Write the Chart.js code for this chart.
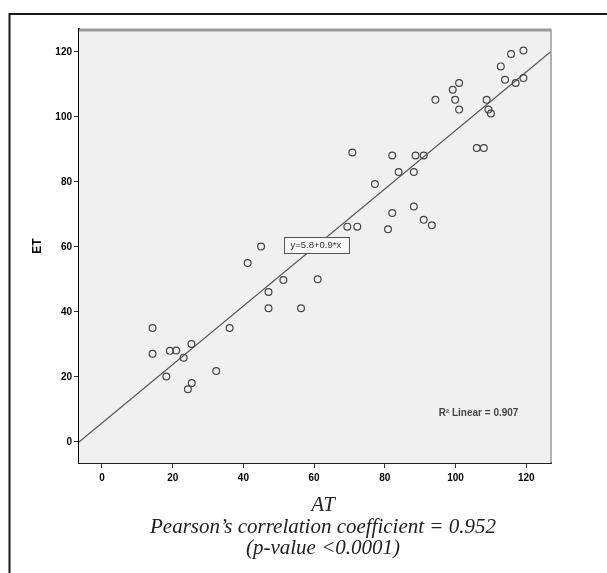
<!DOCTYPE html>
<html>
<head>
<meta charset="utf-8">
<script src="https://cdn.jsdelivr.net/npm/chart.js@4/dist/chart.umd.min.js"></script>
<style>
  html, body { margin: 0; padding: 0; background: #fff; }
  #wrap { width: 607px; height: 573px; position: relative; }
</style>
</head>
<body>
<div id="wrap"><canvas id="chart" width="607" height="573"></canvas></div>
<script>
// AT vs ET values
const atValues = [14.3, 14.3, 18.2, 19.2, 21, 23.1, 25.3, 24.3, 25.4, 32.3, 36.1, 41.2, 45, 47.1, 47.1,
  51.3, 56.3, 61, 69.4, 72.2, 70.8, 77.2, 80.9, 82.1, 82.1, 83.9, 88.2, 88.2, 88.7, 91, 91, 93.3,
  94.3, 99.2, 101, 99.9, 101, 108.8, 109.3, 110, 106, 108, 112.8, 114, 115.7, 119.2, 117, 119.2];
const etValues = [35, 27.1, 20.1, 28, 28.1, 25.9, 30.1, 16.2, 18.1, 21.8, 35, 55, 60.1, 46.1, 41.1,
  49.8, 41.1, 50, 66.2, 66.2, 89, 79.3, 65.4, 70.4, 88.1, 83, 83, 72.4, 88.1, 88.1, 68.3, 66.6,
  105.2, 108.3, 110.4, 105.2, 102.2, 105.2, 102.2, 101, 90.4, 90.4, 115.5, 111.4, 119.3, 120.4, 110.4, 111.9];

const xTicks = [0, 20, 40, 60, 80, 100, 120];
const yTicks = [0, 20, 40, 60, 80, 100, 120];
const axisMin = -6.5;
const axisMax = 127;

// fitted line  y = 5.8 + 0.9 * x
const fitIntercept = 5.8;
const fitSlope = 0.9;
const fitLabel = 'y=5.8+0.9*x';
const fitLabelAt = [60.5, 60.6];
const r2Label = 'R\u00B2 Linear = 0.907';
const r2LabelAt = [106.5, 8.9];

const xTitle = 'AT';
const yTitle = 'ET';
const captionLines = ['Pearson\u2019s correlation coefficient = 0.952', '(p-value <0.0001)'];

const points = atValues.map((x, i) => ({ x: x, y: etValues[i] }));
const fitLine = [axisMin, axisMax].map(x => ({ x: x, y: fitIntercept + fitSlope * x }));

const decor = {
  id: 'decor',
  beforeDatasetsDraw(chart) {
    const { ctx, chartArea: a } = chart;
    ctx.save();
    ctx.fillStyle = '#f0f0f0';
    ctx.fillRect(a.left, a.top, a.right - a.left, a.bottom - a.top);
    ctx.restore();
  },
  afterDraw(chart) {
    const { ctx, chartArea: a, scales } = chart;
    ctx.save();
    // outer frame
    ctx.strokeStyle = '#1a1a1a';
    ctx.lineWidth = 2;
    ctx.beginPath();
    ctx.moveTo(9.5, 573);
    ctx.lineTo(9.5, 14);
    ctx.lineTo(607, 14);
    ctx.stroke();
    // top and right plot border
    ctx.strokeStyle = '#9a9a9a';
    ctx.lineWidth = 3;
    ctx.beginPath();
    ctx.moveTo(a.left, a.top + 1);
    ctx.lineTo(a.right, a.top + 1);
    ctx.stroke();
    ctx.lineWidth = 1.5;
    ctx.beginPath();
    ctx.moveTo(a.right, a.top);
    ctx.lineTo(a.right, a.bottom);
    ctx.stroke();

    // equation box
    const ex = scales.x.getPixelForValue(fitLabelAt[0]);
    const ey = scales.y.getPixelForValue(fitLabelAt[1]);
    ctx.font = '9.5px "Liberation Sans", Arial, sans-serif';
    const w = ctx.measureText(fitLabel).width + 14;
    ctx.fillStyle = '#f7f7f7';
    ctx.fillRect(ex - w / 2, ey - 8, w, 16);
    ctx.strokeStyle = '#555';
    ctx.lineWidth = 1;
    ctx.strokeRect(Math.round(ex - w / 2) + 0.5, Math.round(ey - 8) + 0.5, Math.round(w), 16);
    ctx.fillStyle = '#333';
    ctx.textAlign = 'center';
    ctx.textBaseline = 'middle';
    ctx.fillText(fitLabel, ex, ey + 1);

    // R squared
    ctx.font = 'bold 10px "Liberation Sans", Arial, sans-serif';
    ctx.fillStyle = '#444';
    ctx.fillText(r2Label, scales.x.getPixelForValue(r2LabelAt[0]), scales.y.getPixelForValue(r2LabelAt[1]));

    // axis titles and caption
    ctx.save();
    ctx.translate(38, (a.top + a.bottom) / 2);
    ctx.rotate(-Math.PI / 2);
    ctx.font = 'bold 12px "Liberation Sans", Arial, sans-serif';
    ctx.fillStyle = '#000';
    ctx.fillText(yTitle, 0, 0);
    ctx.restore();

    ctx.font = 'italic 21px "Liberation Serif", "Times New Roman", serif';
    ctx.fillStyle = '#222';
    const cx = 323;
    ctx.fillText(xTitle, cx, 505);
    ctx.fillText(captionLines[0], cx, 527);
    ctx.fillText(captionLines[1], cx, 548);
    ctx.restore();
  }
};

const tickFont = { family: '"Liberation Sans", Arial, sans-serif', size: 10, weight: 'bold' };

new Chart(document.getElementById('chart'), {
  type: 'scatter',
  data: {
    datasets: [
      {
        data: points,
        borderColor: '#444',
        backgroundColor: 'rgba(0,0,0,0)',
        borderWidth: 1.2,
        pointRadius: 3.4,
        pointStyle: 'circle',
      },
      {
        type: 'line',
        data: fitLine,
        borderColor: '#555',
        borderWidth: 1.2,
        pointRadius: 0,
        fill: false,
      },
    ],
  },
  options: {
    responsive: false,
    animation: false,
    layout: { padding: { left: 0, top: 29, right: 56, bottom: 88 } },
    scales: {
      x: {
        type: 'linear',
        min: axisMin,
        max: axisMax,
        afterBuildTicks: s => { s.ticks = xTicks.map(v => ({ value: v })); },
        afterFit: s => { s.height = 22; },
        grid: { drawOnChartArea: false, tickLength: 5, color: '#333' },
        border: { color: '#222', width: 2 },
        ticks: { color: '#000', font: tickFont, padding: 4, maxRotation: 0 },
      },
      y: {
        type: 'linear',
        min: axisMin,
        max: axisMax,
        afterBuildTicks: s => { s.ticks = yTicks.map(v => ({ value: v })); },
        afterFit: s => { s.width = 79; },
        grid: { drawOnChartArea: false, tickLength: 5, color: '#333' },
        border: { color: '#000', width: 2 },
        ticks: { color: '#000', font: tickFont, padding: 2 },
      },
    },
    plugins: {
      legend: { display: false },
      tooltip: { enabled: false },
    },
  },
  plugins: [decor],
});
</script>
</body>
</html>
